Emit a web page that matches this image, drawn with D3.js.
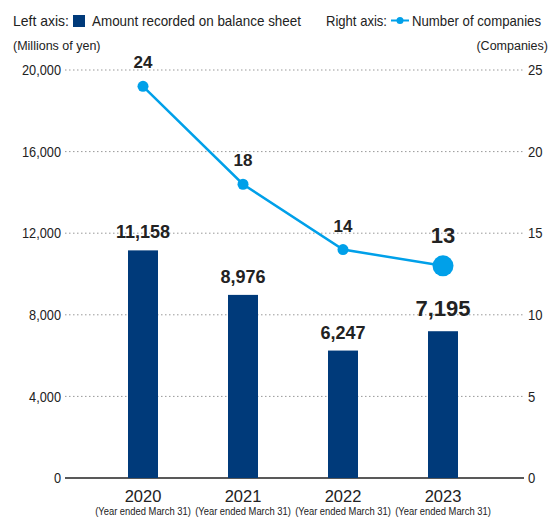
<!DOCTYPE html>
<html><head><meta charset="utf-8">
<script src="https://cdn.jsdelivr.net/npm/d3@7"></script>
<style>
body{margin:0;background:#fff;}
svg{display:block;}
text{font-family:"Liberation Sans",Arial,sans-serif;fill:#222;}
</style></head>
<body><svg id="c" width="549" height="517"></svg>
<script>
const years = ["2020","2021","2022","2023"];
const subLabel = "(Year ended March 31)";
const amounts = [11158, 8976, 6247, 7195];
const companies = [24, 18, 14, 13];
const leftTicks = [0, 4000, 8000, 12000, 16000, 20000];
const rightTicks = [0, 5, 10, 15, 20, 25];

const svg = d3.select("#c");
const navy = "#003a7a", blue = "#00a0e9";
const x0 = 65, x1 = 524, yTop = 70, yBot = 478;

const x = d3.scaleBand().domain(years).range([93, 493]).paddingInner(0.7).paddingOuter(0.35);
const yL = d3.scaleLinear().domain([0, 20000]).range([yBot, yTop]);
const yR = d3.scaleLinear().domain([0, 25]).range([yBot, yTop]);
const cx = d => x(d) + x.bandwidth() / 2;

function condense(sel, f) {
  sel.each(function () {
    const w = this.getComputedTextLength();
    d3.select(this).attr("textLength", w * f).attr("lengthAdjust", "spacingAndGlyphs");
  });
  return sel;
}

// grid
svg.append("g").selectAll("line").data(leftTicks.filter(d => d > 0)).join("line")
  .attr("x1", x0).attr("x2", x1).attr("y1", d => yL(d)).attr("y2", d => yL(d))
  .attr("stroke", "#999").attr("stroke-width", 1).attr("stroke-dasharray", "1.5,2.5");
svg.append("line").attr("x1", x0).attr("x2", x1).attr("y1", yBot).attr("y2", yBot)
  .attr("stroke", "#222").attr("stroke-width", 1.5);

// axis labels
condense(svg.append("g").selectAll("text").data(leftTicks).join("text")
  .attr("x", 61).attr("y", d => yL(d)).attr("dy", "0.36em").attr("text-anchor", "end")
  .attr("font-size", 14.5).text(d => d3.format(",")(d)), 0.88);
condense(svg.append("g").selectAll("text").data(rightTicks).join("text")
  .attr("x", 528).attr("y", d => yR(d)).attr("dy", "0.36em").attr("text-anchor", "start")
  .attr("font-size", 14.5).text(d => d), 0.9);

// bars
svg.append("g").selectAll("rect").data(amounts).join("rect")
  .attr("x", (d, i) => x(years[i])).attr("width", x.bandwidth())
  .attr("y", d => yL(d)).attr("height", d => yBot - yL(d)).attr("fill", navy);

svg.append("g").selectAll("text").data(amounts).join("text")
  .attr("x", (d, i) => cx(years[i])).attr("y", (d, i) => yL(d) - (i === 3 ? 15 : 12))
  .attr("text-anchor", "middle").attr("font-weight", "bold")
  .attr("font-size", (d, i) => i === 3 ? 22 : 18).attr("fill", "#111")
  .text(d => d3.format(",")(d));

// line
const line = d3.line().x((d, i) => cx(years[i])).y(d => yR(d));
svg.append("path").datum(companies).attr("d", line).attr("fill", "none")
  .attr("stroke", blue).attr("stroke-width", 2.5);
svg.append("g").selectAll("circle").data(companies).join("circle")
  .attr("cx", (d, i) => cx(years[i])).attr("cy", d => yR(d))
  .attr("r", (d, i) => i === 3 ? 10.5 : 5.5).attr("fill", blue);
svg.append("g").selectAll("text").data(companies).join("text")
  .attr("x", (d, i) => cx(years[i])).attr("y", (d, i) => yR(d) - (i === 3 ? 23 : 18))
  .attr("text-anchor", "middle").attr("font-weight", "bold")
  .attr("font-size", (d, i) => i === 3 ? 22 : 17).attr("fill", "#111")
  .text(d => d);

// x labels
svg.append("g").selectAll("text").data(years).join("text")
  .attr("x", d => cx(d)).attr("y", 502).attr("text-anchor", "middle")
  .attr("font-size", 16.5).text(d => d);
svg.append("g").selectAll("text").data(years).join("text")
  .attr("transform", d => `translate(${cx(d)},515) scale(1,1.22)`)
  .attr("text-anchor", "middle")
  .attr("font-size", 9.4).text(subLabel);

// units
svg.append("text").attr("x", 13).attr("y", 50).attr("font-size", 12.5).text("(Millions of yen)");
svg.append("text").attr("x", 548).attr("y", 50).attr("font-size", 12.5).attr("text-anchor", "end").text("(Companies)");

// legend
const lg = [["Left axis:", 13, 56], ["Amount recorded on balance sheet", 92, 209], ["Right axis:", 326, 61], ["Number of companies", 412, 129]];
lg.forEach(([t, lx, w]) => svg.append("text").attr("transform", `translate(${lx},26) scale(1,1.15)`)
  .attr("font-size", 13.4).attr("textLength", w).attr("lengthAdjust", "spacingAndGlyphs").text(t));
svg.append("rect").attr("x", 73).attr("y", 15).attr("width", 12).attr("height", 12).attr("fill", navy);
svg.append("line").attr("x1", 391).attr("x2", 409).attr("y1", 20.5).attr("y2", 20.5).attr("stroke", blue).attr("stroke-width", 2);
svg.append("circle").attr("cx", 400).attr("cy", 20.5).attr("r", 3.5).attr("fill", blue);
</script></body></html>
